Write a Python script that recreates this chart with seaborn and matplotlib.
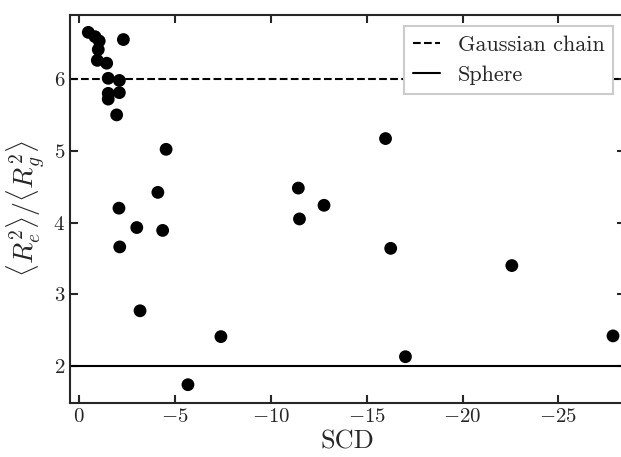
import numpy as np
import pandas as pd
import matplotlib
matplotlib.use("Agg")
import matplotlib.pyplot as plt
import seaborn as sns

# values
scd = [-0.47, -0.82, -1.04, -2.30, -0.99, -0.94, -1.43, -1.51, -2.09, -2.09,
       -1.51, -1.51, -1.95, -4.53, -4.10, -2.07, -3.00, -4.35, -2.11, -3.17,
       -7.39, -5.67, -11.43, -11.49, -12.77, -15.98, -16.25, -17.02, -22.57, -27.85]
ratio = [6.65, 6.59, 6.53, 6.55, 6.41, 6.26, 6.22, 6.01, 5.98, 5.81,
         5.80, 5.72, 5.50, 5.02, 4.42, 4.20, 3.93, 3.89, 3.66, 2.77,
         2.41, 1.74, 4.48, 4.05, 4.24, 5.17, 3.64, 2.13, 3.40, 2.42]
gaussian_chain = 6.0
sphere = 2.0

df = pd.DataFrame({"SCD": scd, "ratio": ratio})

sns.set_style("ticks")
plt.rcParams["font.family"] = "serif"
plt.rcParams["font.serif"] = ["cmr10"]
plt.rcParams["mathtext.fontset"] = "cm"
plt.rcParams["axes.formatter.use_mathtext"] = True
plt.rcParams["axes.unicode_minus"] = True

fig = plt.figure(figsize=(6.21, 4.57), dpi=100)
ax = fig.add_axes([70 / 621, 54.3 / 457, 554.5 / 621, 387.7 / 457])

sns.scatterplot(data=df, x="SCD", y="ratio", color="black", s=85,
                edgecolor="none", ax=ax, zorder=3)
ax.axhline(gaussian_chain, color="black", ls="--", lw=1.5, label="Gaussian chain")
ax.axhline(sphere, color="black", ls="-", lw=1.5, label="Sphere")

ax.set_xlim(0.485, -28.45)
ax.set_ylim(1.489, 6.892)
ax.set_xticks([0, -5, -10, -15, -20, -25])
ax.set_yticks([2, 3, 4, 5, 6])
ax.set_xlabel("SCD", fontsize=19, labelpad=3)
ax.set_ylabel(r"$\langle R_e^2\rangle/\langle R_g^2\rangle$", fontsize=20, labelpad=4)
ax.tick_params(direction="in", top=True, right=True, length=6, width=1.5,
               labelsize=15)
for sp in ax.spines.values():
    sp.set_linewidth(1.5)

leg = ax.legend(loc="upper right", fontsize=16, handlelength=1.2,
                fancybox=False, framealpha=1, edgecolor="#cccccc")
leg.get_frame().set_linewidth(1.5)

fig.savefig("out.png", dpi=100)
